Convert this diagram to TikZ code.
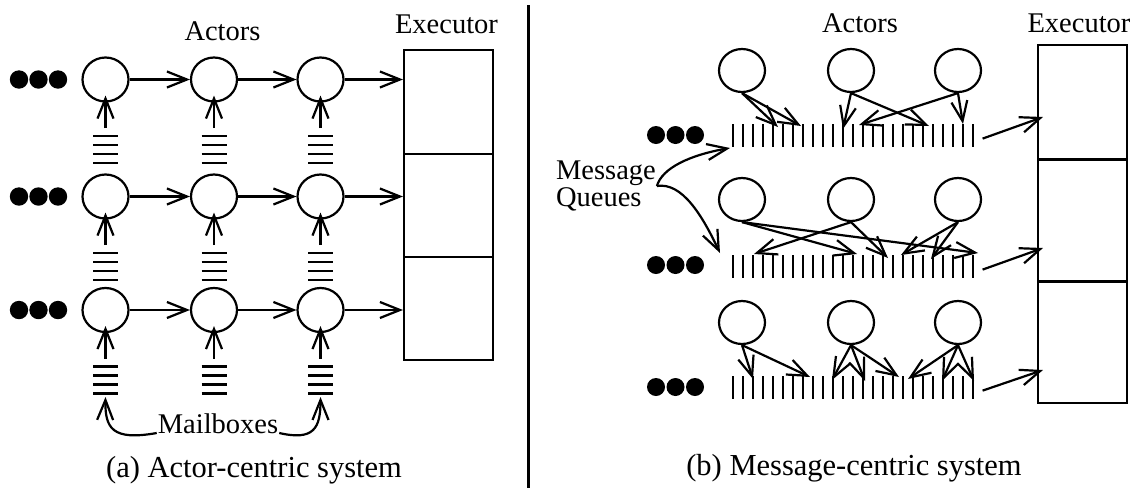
\documentclass[tikz,border=0pt]{standalone}
\usepackage{fontspec}
\setmainfont{Liberation Serif}
\usetikzlibrary{arrows.meta,shapes.geometric}
\begin{document}
\begin{tikzpicture}[x=1pt,y=-1pt,line width=2.2pt,
  barb/.style={-{Straight Barb[length=20pt,width=16pt]}},
  actorL/.style={ellipse,draw,minimum width=46pt,minimum height=44pt,inner sep=0pt},
  actorR/.style={ellipse,draw,minimum width=46pt,minimum height=43pt,inner sep=0pt},
  box/.style={draw,minimum width=89pt,inner sep=0pt},
  qnode/.style={inner sep=0pt,minimum width=241pt,minimum height=23pt},
  lbl/.style={font=\fontsize{28.5}{27}\selectfont,inner sep=0pt},
  capt/.style={font=\fontsize{30.5}{36}\selectfont,inner sep=0pt}]
\useasboundingbox (0,0) rectangle (1135,488);

% divider
\draw[line width=3pt] (528,5) -- (528,488);

% ================= (a) Actor-centric =================
\node[lbl,anchor=base] (actL) at (222.5,40) {Actors};
\node[lbl,anchor=base] (exL) at (446.5,33) {Executor};
\node[capt,anchor=base] (capA) at (254,477) {(a) Actor-centric system};

\node[box,minimum height=104pt] (eL1) at (448.5,102) {};
\node[box,minimum height=103pt] (eL2) at (448.5,205.5) {};
\node[box,minimum height=103pt] (eL3) at (448.5,308.5) {};

\foreach \r/\y in {1/79.5,2/196.5,3/310}{
  \foreach \x in {19,38.5,58} \fill (\x,\y) circle[radius=9.2];
  \foreach \c/\x in {1/105.5,2/214,3/320.5}{
    \node[actorL] (a\r\c) at (\x,\y) {};
    \path (a\r\c.center) ++(0,48.5) coordinate (m\r\c);
    \draw[barb] (m\r\c) -- ([yshift=7pt]a\r\c.south);
    \foreach \d in {56.5,65.5,74.5,83.5}{
      \path (a\r\c.center) ++(-12.5,\d) coordinate (mt);
      \draw (mt) -- ++(25,0);
    }
  }
  \draw[barb] (a\r1.east) -- (a\r2.west);
  \draw[barb] (a\r2.east) -- (a\r3.west);
  \draw[barb] (a\r3.east) -- (a\r3.east -| eL1.west);
}

\node[lbl,anchor=base] (mbl) at (218,433) {Mailboxes};
\path (a31.center) ++(0,87) coordinate (mb1);
\path (a33.center) ++(0,87) coordinate (mb3);
\draw[barb] (mbl.base west) .. controls (112,441) and (105,428) .. (mb1);
\draw[barb] (mbl.base east) .. controls (314,441) and (320.5,428) .. (mb3);

% ================= (b) Message-centric =================
\node[lbl,anchor=base] (actR) at (860,32) {Actors};
\node[lbl,anchor=base] (exR) at (1079,32) {Executor};
\node[capt,anchor=base] (capB) at (854,475) {(b) Message-centric system};

\node[box,minimum height=114.5pt] (eR1) at (1082.5,102.25) {};
\node[box,minimum height=122pt] (eR2) at (1082.5,220.5) {};
\node[box,minimum height=121.5pt] (eR3) at (1082.5,342.25) {};

\foreach \r/\y/\qy/\dy/\ey in {1/70.5/124/135/117,2/199.5/255/265/248,3/322.5/376/387/370}{
  \foreach \x in {656,675.5,695} \fill (\x,\dy) circle[radius=9];
  \foreach \c/\x in {1/742,2/851,3/958} \node[actorR] (b\r\c) at (\x,\y) {};
  \foreach \i in {0,...,24} \draw (733+10*\i,\qy) -- ++(0,22.5);
  \node[qnode,anchor=north] (q\r) at (853,\qy) {};
  \coordinate (xi\r) at (1043,\ey);
  \draw[barb] ([xshift=8pt,yshift=-2pt]q\r.east) -- (xi\r);
}

% message arrows, row 1
\coordinate (p11a) at (778,127); \coordinate (p11b) at (801,126);
\coordinate (p12a) at (843,129); \coordinate (p12b) at (929,126);
\coordinate (p13a) at (963,124); \coordinate (p13b) at (859,125);
% row 2
\coordinate (p21a) at (857,254); \coordinate (p21b) at (978,253);
\coordinate (p22a) at (754,254); \coordinate (p22b) at (888,258);
\coordinate (p23a) at (901,255); \coordinate (p23b) at (931,259);
% row 3
\coordinate (p31a) at (753,379); \coordinate (p31b) at (810,377);
\coordinate (p32a) at (832,380); \coordinate (p32b) at (865,381); \coordinate (p32c) at (899,377);
\coordinate (p33a) at (908,379); \coordinate (p33b) at (942,381); \coordinate (p33c) at (974,381);

\foreach \s/\t in {b11/p11a,b11/p11b,b12/p12a,b12/p12b,b13/p13a,b13/p13b,
                   b21/p21a,b21/p21b,b22/p22a,b22/p22b,b23/p23a,b23/p23b,
                   b31/p31a,b31/p31b,b32/p32a,b32/p32b,b32/p32c,b33/p33a,b33/p33b,b33/p33c}
  \draw[barb] (\s.south) -- (\t);

% Message Queues label
\node[lbl,align=left,anchor=west] (mq) at (555,186) {Message\\Queues};
\coordinate (mqa) at (730,148);
\coordinate (mqb) at (720,253);
\draw[barb] (mq.east) .. controls (662,168) and (690,155) .. (mqa);
\draw[barb] (mq.east) .. controls (682,182) and (702,215) .. (mqb);
\end{tikzpicture}
\end{document}
